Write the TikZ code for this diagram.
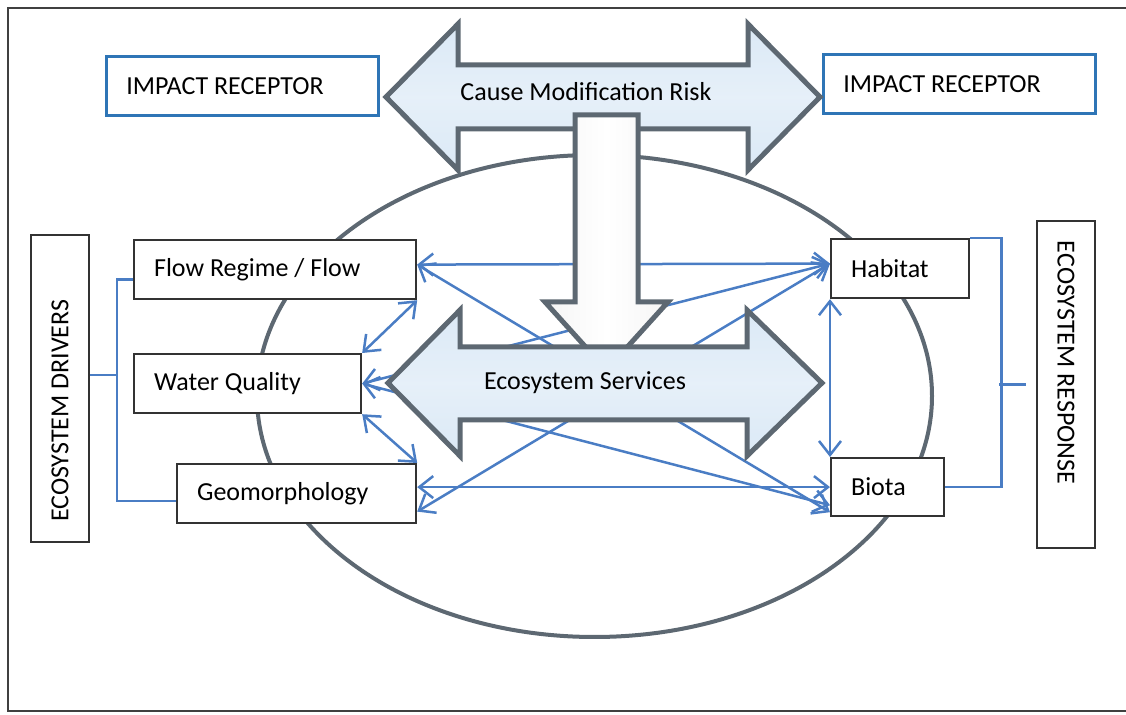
\documentclass[tikz,border=0pt]{standalone}
\usepackage{fontspec}
\setmainfont{Carlito}
\usepackage{tikz}
\usetikzlibrary{arrows.meta}

\definecolor{linkblue}{RGB}{74,125,196}
\definecolor{boxblue}{RGB}{46,117,182}
\definecolor{arrowfill}{RGB}{219,233,246}
\definecolor{outline}{RGB}{93,104,114}

\tikzset{
  box/.style={draw=black!80, line width=1.1pt, fill=white, align=flush left,
    inner xsep=10pt, minimum height=29.5pt, font=\fontsize{13}{15}\selectfont},
  receptor/.style={box, draw=boxblue, line width=1.4pt},
  link/.style={linkblue, line width=1.25pt, <->,
    >={Straight Barb[length=7pt,width=11pt]}},
  bus/.style={linkblue, line width=1.3pt},
  bigarrow/.style={draw=outline, line width=2.5pt, line join=miter,
    top color=arrowfill, bottom color=arrowfill, middle color=arrowfill!70},
  downarrow/.style={draw=outline, line width=2.5pt, line join=miter,
    left color=black!4, right color=black!4, middle color=white},
  label/.style={font=\fontsize{13}{15}\selectfont}
}

\begin{document}
\begin{tikzpicture}[x=0.5pt,y=-0.5pt]
  \useasboundingbox (0,0) rectangle (1126,715);
  \draw[black!75, line width=1pt] (1126,8) -- (8,8) -- (8,711) -- (1126,711);

  % the ecosystem
  \draw[outline, line width=2pt] (594.5,396) ellipse [x radius=337.5, y radius=241];

  % drivers, left
  \node[box, anchor=north west, text width=121pt] (flow) at (133,239) {Flow Regime / Flow};
  \node[box, anchor=north west, text width=93.5pt] (wq) at (133,353) {Water Quality};
  \node[box, anchor=north west, text width=99.5pt] (geo) at (176,463) {Geomorphology};
  \node[box, rotate=90, text width=133.5pt, minimum height=29pt] (drivers) at (60,388.5) {ECOSYSTEM DRIVERS};

  % response, right
  \node[box, anchor=north west, text width=49pt] (habitat) at (830,238) {Habitat};
  \node[box, anchor=north west, text width=36.5pt, minimum height=29pt] (biota) at (830,457) {Biota};
  \node[box, rotate=-90, text width=143.5pt, minimum height=29pt] (response) at (1066,384.5) {ECOSYSTEM RESPONSE};

  \node[receptor, anchor=north west, text width=116pt] (recl) at (105,55) {IMPACT RECEPTOR};
  \node[receptor, anchor=north west, text width=116pt] (recr) at (822,53) {IMPACT RECEPTOR};

  % brackets
  \coordinate (lbus) at (117,375);
  \coordinate (rbus) at (999,384.5);
  \draw[bus] ([yshift=-5pt]flow.west) -- ++(-16,0) |- ([yshift=-3.75pt]geo.west);
  \draw[bus] (drivers.south |- lbus) -- (lbus);
  \draw[bus] (habitat.north east) -- ++(31,0) |- (biota.east);
  \draw[bus] (rbus) -- ([xshift=-5pt]response.south);

  % links
  \coordinate (hab) at ([yshift=2.5pt]habitat.west);
  \draw[link] ([yshift=2.5pt]flow.east) -- (hab);
  \draw[link] ([yshift=2.5pt]flow.east) -- ([yshift=2.5pt]biota.south west);
  \draw[link] (wq.east) -- (hab);
  \draw[link] (wq.east) -- ([yshift=6pt]biota.south west);
  \draw[link] ([yshift=-9pt]geo.east) -- (hab);
  \draw[link] (geo.east |- biota.west) -- (biota.west);
  \draw[link] (flow.south east) -- (wq.north east);
  \draw[link] (wq.south east) -- (geo.north east);
  \draw[link] (habitat.south west) -- (biota.north west);

  % big arrows
  \draw[bigarrow] (386,97) -- (458,24) -- (458,65) -- (748,65) -- (748,24) -- (820,97)
    -- (748,170) -- (748,129) -- (458,129) -- (458,170) -- cycle;
  \node[label] (risk) at (586,92) {Cause Modification Risk};
  \draw[downarrow] (575,115) -- (638,115) -- (638,302) -- (668,302) -- (606.5,370)
    -- (545,302) -- (575,302) -- cycle;
  \draw[bigarrow] (388,383) -- (460,310) -- (460,347) -- (747,347) -- (747,310) -- (822,383)
    -- (747,456) -- (747,420) -- (460,420) -- (460,456) -- cycle;
  \node[label] (services) at (585,383) {Ecosystem Services};
\end{tikzpicture}
\end{document}
